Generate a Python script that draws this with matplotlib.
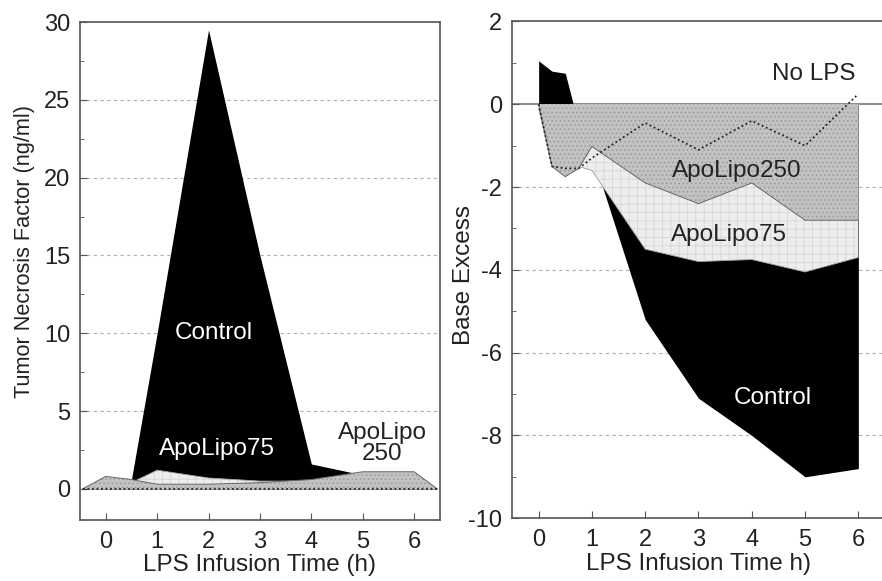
import matplotlib.pyplot as plt
from matplotlib.ticker import MultipleLocator

plt.rcParams['font.family'] = ['Liberation Sans', 'DejaVu Sans']
plt.rcParams['axes.unicode_minus'] = False
plt.rcParams['hatch.linewidth'] = 0.6

# TNF (ng/ml) during LPS infusion
tnf_time = [-0.45, 0, 0.5, 1, 2, 3, 4, 5, 6, 6.45]
tnf_control = [0, 0.2, 0.6, 10, 29.5, 15, 1.6, 0.9, 0.5, 0]
tnf_apo75 = [0, 0.3, 0.4, 1.2, 0.7, 0.5, 0.5, 0.4, 0.2, 0]
tnf_apo250 = [0, 0.8, 0.6, 0.3, 0.3, 0.4, 0.6, 1.1, 1.1, 0]
tnf_nolps = [0, 0, 0, 0, 0, 0, 0, 0, 0, 0]

# base excess during LPS infusion
be_time = [0, 0.25, 0.5, 0.75, 1, 2, 3, 4, 5, 6]
be_control = [1.05, 0.8, 0.75, -0.5, -1.2, -5.2, -7.1, -8.0, -9.0, -8.8]
be_apo75 = [-0.1, -1.45, -1.55, -1.5, -1.6, -3.5, -3.8, -3.75, -4.05, -3.7]
be_apo250 = [0, -1.5, -1.75, -1.55, -1.02, -1.9, -2.4, -1.9, -2.8, -2.8]
be_nolps = [0, -1.5, -1.55, -1.55, -1.3, -0.45, -1.1, -0.4, -1.0, 0.25]

xticks = [0, 1, 2, 3, 4, 5, 6]

fig = plt.figure(figsize=(8.82, 5.81), dpi=100)
ax1 = fig.add_axes([0.0907, 0.105, 0.408, 0.857])
ax2 = fig.add_axes([0.5805, 0.108, 0.4229, 0.855])

grid_kw = dict(color='#b0b0b0', lw=0.8, ls=(0, (3, 3)), zorder=0)
ink = '#222222'
xlab_kw = dict(fontsize=17.5, color=ink, labelpad=1)
label_kw = dict(fontsize=17.5, ha='center', va='center', zorder=6)


def draw_areas(ax, t, control, apo75, apo250, nolps):
    ax.fill_between(t, 0, control, color='black', lw=0, zorder=2)
    ax.fill_between(t, 0, apo75, facecolor='#ededed', edgecolor='#d6d6d6',
                    hatch='++', lw=0, zorder=3)
    ax.plot(t, apo75, color='#a0a0a0', lw=0.6, zorder=3)
    ax.fill_between(t, 0, apo250, facecolor='#c2c2c2', edgecolor='#999999',
                    hatch='....', lw=0, zorder=4)
    ax.plot(t, apo250, color='#666666', lw=0.7, zorder=4)
    ax.plot(t, nolps, color=ink, lw=1.3, ls=(0, (1, 1.5)), zorder=5)


# left: tumor necrosis factor
for y in [5, 10, 15, 20, 25]:
    ax1.axhline(y, **grid_kw)
draw_areas(ax1, tnf_time, tnf_control, tnf_apo75, tnf_apo250, tnf_nolps)
ax1.set_xlim(-0.5, 6.5)
ax1.set_ylim(-2, 30)
ax1.set_xticks(xticks)
ax1.yaxis.set_major_locator(MultipleLocator(5))
ax1.yaxis.set_minor_locator(MultipleLocator(2.5))
ax1.set_ylabel('Tumor Necrosis Factor (ng/ml)', fontsize=15.7, color=ink)
ax1.yaxis.set_label_coords(-0.125, 0.54)
ax1.set_xlabel('LPS Infusion Time (h)', **xlab_kw)
ax1.text(2.1, 10.0, 'Control', color='white', **label_kw)
ax1.text(2.17, 2.55, 'ApoLipo75', color='white', **label_kw)
ax1.text(5.38, 2.9, 'ApoLipo\n250', color=ink, linespacing=0.95, **label_kw)

# right: base excess
for y in [-2, -4, -6, -8]:
    ax2.axhline(y, **grid_kw)
ax2.axhline(0, color='#777777', lw=1.2, zorder=1)
draw_areas(ax2, be_time, be_control, be_apo75, be_apo250, be_nolps)
ax2.set_xlim(-0.5, 6.5)
ax2.set_ylim(-10, 2)
ax2.set_xticks(xticks)
ax2.yaxis.set_major_locator(MultipleLocator(2))
ax2.yaxis.set_minor_locator(MultipleLocator(1))
ax2.set_ylabel('Base Excess', fontsize=17.5, color=ink)
ax2.yaxis.set_label_coords(-0.099, 0.49)
ax2.set_xlabel('LPS Infusion Time h)', **xlab_kw)
ax2.text(5.16, 0.73, 'No LPS', color=ink, **label_kw)
ax2.text(3.72, -1.62, 'ApoLipo250', color=ink, **label_kw)
ax2.text(3.58, -3.15, 'ApoLipo75', color=ink, **label_kw)
ax2.text(4.39, -7.1, 'Control', color='white', **label_kw)

for ax in (ax1, ax2):
    for s in ax.spines.values():
        s.set_color('#555555')
        s.set_linewidth(1.2)
    ax.tick_params(which='both', direction='in', colors='#555555', labelcolor=ink,
                   labelsize=17)
    ax.tick_params(which='major', length=5)
    ax.tick_params(which='minor', length=3)
    ax.tick_params(axis='x', pad=8)
    ax.tick_params(axis='y', pad=7)

plt.savefig('out.png', dpi=100)
